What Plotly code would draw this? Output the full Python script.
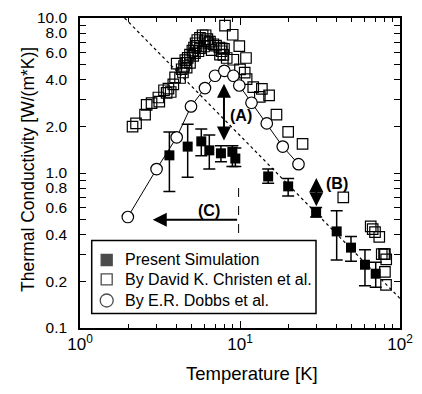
import numpy as np
import plotly.graph_objects as go

# ---------------- data ----------------
sim_T = [3.62, 4.71, 5.73, 6.43, 7.6, 8.96, 9.35, 15.0, 20.0, 29.9, 40.2, 49.4, 60.4, 70.5]
sim_K = [1.30, 1.48, 1.60, 1.40, 1.34, 1.37, 1.24, 0.95, 0.82, 0.556, 0.42, 0.33, 0.256, 0.224]
sim_hi = [1.84, 2.06, 1.92, 1.76, 1.50, 1.50, 1.45, 1.06, 0.92, 0.60, 0.57, 0.39, 0.32, 0.266]
sim_lo = [0.76, 0.94, 1.29, 1.06, 1.18, 1.10, 1.10, 0.86, 0.71, 0.52, 0.275, 0.27, 0.187, 0.183]

chr_T = [2.13, 2.24, 2.55, 2.61, 2.80, 3.09, 3.13, 3.35, 3.48, 3.57, 3.69, 3.83, 3.93, 4.22,
         4.02, 4.32, 4.47, 4.60, 4.64, 4.71, 4.87, 4.87, 5.04, 5.16, 5.23, 5.28, 5.41, 5.62,
         5.62, 5.84, 5.96, 6.10, 6.25, 6.49, 6.81, 7.08, 7.43, 7.5, 7.68, 7.94,
         7.69, 7.87, 8.26, 8.06, 9.0, 9.9, 10.9, 9.08, 10.0, 10.7, 11.0, 12.1, 13.7, 13.3,
         15.2, 16.9, 20.0, 24.6, 44.2, 65.6, 67.5, 69.8, 74.2, 76.9, 79.5, 82.0, 80.5, 80.5, 81.8,
         4.40, 4.55, 5.10, 5.35, 5.50, 6.00, 6.35, 6.65]
chr_K = [1.99, 2.09, 2.38, 2.75, 2.82, 3.07, 2.89, 3.42, 3.29, 3.50, 3.33, 3.73, 4.14, 4.10,
         5.07, 4.67, 4.90, 5.14, 4.79, 5.53, 5.80, 5.14, 6.15, 6.45, 5.94, 6.87, 7.21, 7.45,
         6.39, 7.74, 6.55, 7.74, 7.31, 7.03, 6.77, 6.64, 6.45, 5.80, 6.10, 6.33,
         6.37, 5.79, 5.52, 8.92, 7.80, 6.59, 5.52, 5.38, 4.66, 4.44, 4.03, 3.58, 3.49, 3.10,
         3.17, 2.38, 1.84, 1.54, 0.697, 0.452, 0.435, 0.415, 0.387, 0.30, 0.30, 0.277, 0.30, 0.23, 0.19,
         4.45, 5.35, 5.70, 6.60, 6.10, 7.10, 6.90, 6.20]

dob_T = [1.99, 3.01, 4.02, 4.94, 6.04, 6.98, 7.98, 9.09, 9.9, 11.8, 14.7, 18.5, 23.2]
dob_K = [0.52, 1.06, 1.70, 2.69, 3.53, 4.24, 4.56, 4.24, 3.67, 2.84, 2.09, 1.48, 1.14]

fit_T = [1.9, 100.0]
fit_K = [10.0, 0.155]

y_ticks = [0.1, 0.2, 0.4, 0.6, 0.8, 1, 2, 4, 6, 8, 10]
y_text = ["0.1", "0.2", "0.4", "0.6", "0.8", "1.0", "2.0", "4.0", "6.0", "8.0", "10.0"]
y_minor = [0.3, 0.5, 0.7, 0.9, 3, 5, 7, 9]
x_ticks = [1, 10, 100]
x_text = ["10<sup>0</sup>", "10<sup>1</sup>", "10<sup>2</sup>"]
x_minor = [2, 3, 4, 5, 6, 7, 8, 9, 20, 30, 40, 50, 60, 70, 80, 90]

legend_names = ["Present Simulation", "By David K. Christen et al.", "By E.R. Dobbs et al."]

# annotation anchors (T, K)
arrA = [7.94, 3.85, 1.62]
labA = [10.2, 2.35]
arrB = [30.0, 0.95, 0.61]
labB = [40.5, 0.86]
arrC = [2.85, 9.8, 0.50]
labC = [6.4, 0.575]
dash_C = [9.8, 0.80, 0.36]

FONT = "Liberation Sans, Arial, sans-serif"
L = np.log10

fig = go.Figure()
fig.add_trace(go.Scatter(x=fit_T, y=fit_K, mode="lines", showlegend=False,
                         line=dict(color="black", width=1.2, dash="dot"), hoverinfo="skip"))
fig.add_trace(go.Scatter(x=dash_C[:1] * 2, y=dash_C[1:], mode="lines", showlegend=False,
                         line=dict(color="black", width=1, dash="dash"), hoverinfo="skip"))
fig.add_trace(go.Scatter(x=chr_T, y=chr_K, mode="markers", showlegend=False,
                         marker=dict(symbol="square-open", size=10.5, color="black", line=dict(width=1.2))))
fig.add_trace(go.Scatter(x=dob_T, y=dob_K, mode="lines", showlegend=False,
                         line=dict(color="black", width=1)))
fig.add_trace(go.Scatter(x=dob_T, y=dob_K, mode="markers", showlegend=False,
                         marker=dict(symbol="circle", size=11.5, color="white",
                                     line=dict(color="black", width=1.2))))
fig.add_trace(go.Scatter(x=sim_T, y=sim_K, mode="markers", showlegend=False,
                         marker=dict(symbol="square", size=10, color="black"),
                         error_y=dict(type="data", symmetric=False,
                                      array=list(np.array(sim_hi) - np.array(sim_K)),
                                      arrayminus=list(np.array(sim_K) - np.array(sim_lo)),
                                      color="black", thickness=1.5, width=6)))

# ---- hand-built legend (box, symbols on an overlay 0..1 axis, labels) ----
leg_x = [0.0834, 0.0834, 0.0834]
leg_y = [0.2194, 0.1567, 0.0887]
leg_sym = ["square", "square-open", "circle-open"]
fig.add_trace(go.Scatter(x=leg_x, y=leg_y, xaxis="x2", yaxis="y2", mode="markers", showlegend=False,
                         hoverinfo="skip",
                         marker=dict(symbol=leg_sym, size=[11, 11, 13], color="black",
                                     line=dict(color="black", width=1.3))))

ann = []
arrow_common = dict(showarrow=True, arrowhead=2, arrowsize=1.4, arrowwidth=2, arrowcolor="black",
                    xref="x", yref="y", axref="x", ayref="y", text="")
ann.append(dict(x=L(arrA[0]), y=L(arrA[2]), ax=L(arrA[0]), ay=L(arrA[1]), arrowside="end+start", **arrow_common))
ann.append(dict(x=L(arrB[0]), y=L(arrB[2]), ax=L(arrB[0]), ay=L(arrB[1]), arrowside="end+start", **arrow_common))
ann.append(dict(x=L(arrC[0]), y=L(arrC[2]), ax=L(arrC[1]), ay=L(arrC[2]), **arrow_common))
for txt, pos in (("(A)", labA), ("(B)", labB), ("(C)", labC)):
    ann.append(dict(x=L(pos[0]), y=L(pos[1]), xref="x", yref="y", text="<b>%s</b>" % txt,
                    showarrow=False, font=dict(family=FONT, size=16, color="black")))
for name, yy in zip(legend_names, leg_y):
    ann.append(dict(x=0.1353, y=yy, xref="paper", yref="paper", text=name, showarrow=False,
                    xanchor="left", yanchor="middle", font=dict(family=FONT, size=16, color="black")))
# axis titles
ann.append(dict(x=0.5366, y=-0.146, xref="paper", yref="paper", text="Temperature [K]", showarrow=False,
                xanchor="center", yanchor="middle", font=dict(family=FONT, size=18.5, color="black")))
ann.append(dict(x=-0.1625, y=0.51, xref="paper", yref="paper", text="Thermal Conductivity [W/(m*K)]",
                showarrow=False, textangle=-90, xanchor="center", yanchor="middle",
                font=dict(family=FONT, size=17.5, color="black")))

shapes = [dict(type="rect", xref="paper", yref="paper", x0=0.0366, x1=0.7375, y0=0.047, y1=0.282,
               line=dict(color="black", width=1.5), fillcolor="white", layer="below")]

axis_common = dict(type="log", showline=True, linecolor="black", linewidth=1.5, mirror="allticks",
                   ticks="inside", tickcolor="black", tickwidth=1.2, showgrid=False, zeroline=False)

fig.update_layout(
    width=422, height=394,
    margin=dict(l=80, r=22, t=9, b=66),
    paper_bgcolor="white", plot_bgcolor="white",
    font=dict(family=FONT, color="black"),
    annotations=ann, shapes=shapes, showlegend=False,
    xaxis=dict(range=[0, 2], tickvals=x_ticks, ticktext=x_text, ticklen=7,
               tickfont=dict(family=FONT, size=17, color="black"),
               minor=dict(tickvals=x_minor, ticks="inside", ticklen=4, tickcolor="black", tickwidth=1),
               **axis_common),
    yaxis=dict(range=[-1, 1], tickvals=y_ticks, ticktext=y_text, ticklen=6, ticklabelstandoff=8,
               tickfont=dict(family=FONT, size=15.5, color="black"),
               minor=dict(tickvals=y_minor, ticks="inside", ticklen=6, tickcolor="black", tickwidth=1.2),
               **axis_common),
    xaxis2=dict(overlaying="x", range=[0, 1], visible=False, fixedrange=True),
    yaxis2=dict(overlaying="y", range=[0, 1], visible=False, fixedrange=True),
)

fig.write_html("out.html")
